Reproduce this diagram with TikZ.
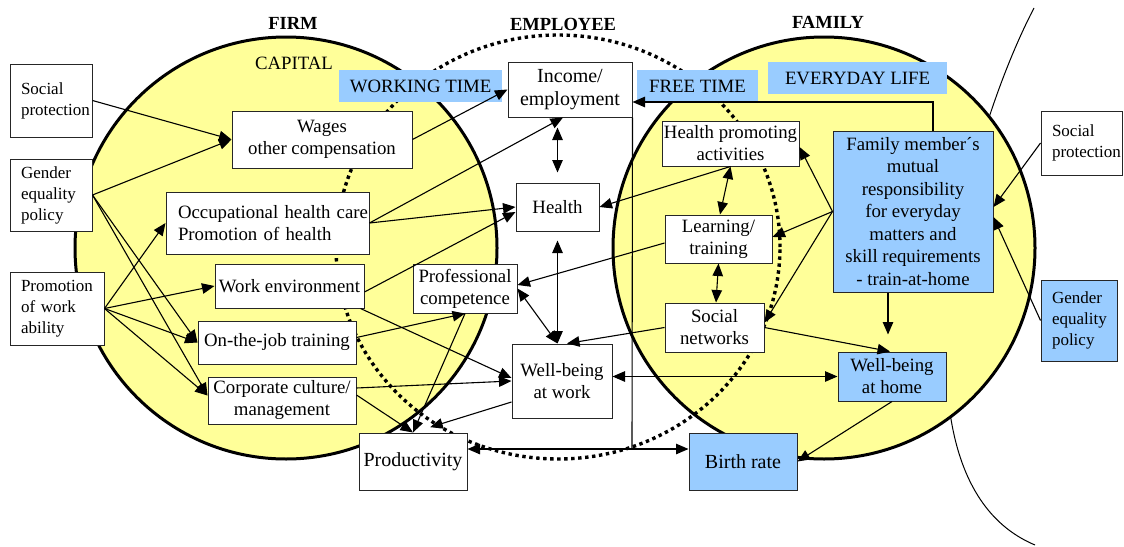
\documentclass[tikz,border=0pt]{standalone}
\usepackage{fontspec}
\setmainfont{Liberation Serif}
\usetikzlibrary{arrows.meta,calc}
\hfuzz=100pt
\definecolor{circfill}{RGB}{255,255,153}
\definecolor{paleblue}{RGB}{153,204,255}
\newcommand{\fsmain}{\fontsize{18.8pt}{22pt}\selectfont}
\newcommand{\fsbig}{\fontsize{20pt}{23pt}\selectfont}
\newcommand{\fsside}{\fontsize{17pt}{21pt}\selectfont}
\newcommand{\fshead}{\fontsize{18.5pt}{22pt}\selectfont\bfseries}

\tikzset{
  box/.style={draw=black!85, line width=1pt, fill=white, inner sep=0pt,
    align=center, font=\fsmain},
  bluebox/.style={box, fill=paleblue},
  sidebox/.style={draw=black!85, line width=1pt, fill=white, inner ysep=0pt,
    inner xsep=11pt, align=left, font=\fsside},
  tag/.style={fill=paleblue, inner sep=0pt, font=\fsmain},
  heading/.style={font=\fshead, inner sep=0pt},
  link/.style={line width=1.1pt, -{Triangle[length=12.5pt,width=10.5pt]}},
  both/.style={line width=1.1pt,
    {Triangle[length=12.5pt,width=10.5pt]}-{Triangle[length=12.5pt,width=10.5pt]}},
  sphere/.style={fill=circfill, draw=black, line width=3pt},
  employeering/.style={line width=3.4pt, dash pattern=on 3.4pt off 3.6pt},
}

\begin{document}
\begin{tikzpicture}[x=1pt, y=-1pt]
\useasboundingbox (0,0) rectangle (1124,546);

% outer arc behind the family sphere
\draw[line width=1pt] (1034,8) .. controls (960,150) and (880,480) .. (1035,545);

% firm and family spheres
\draw[sphere] (286,248) circle[radius=211pt];
\draw[sphere] (824,248) circle[radius=211pt];

% employee ring
\draw[employeering] (558,247) ellipse[x radius=222pt, y radius=212pt];

% headings
\node[heading] (hfirm) at (293,23) {FIRM};
\node[heading] (hemp) at (563,24) {EMPLOYEE};
\node[heading] (hfam) at (828,22.5) {FAMILY};
\node[font=\fsmain, inner sep=0pt] (capital) at (294,63) {CAPITAL};

% blue tags
\node[tag, minimum width=163pt, minimum height=32pt] (worktime) at (420.5,86) {WORKING TIME};
\node[tag, minimum width=121pt, minimum height=33pt] (freetime) at (697.5,86.5) {FREE TIME};
\node[tag, minimum width=179pt, minimum height=32pt] (everyday) at (857.5,78) {EVERYDAY LIFE};

% outside factors, left
\node[sidebox, text width=60pt, minimum height=73pt] (socL) at (51,100.5) {Social\\protection};
\node[sidebox, text width=60pt, minimum height=72pt] (genL) at (51,195) {Gender\\equality\\policy};
\node[sidebox, text width=72pt, minimum height=73pt] (promo) at (57,308.5) {Promotion\\of work\\ability};

% firm
\node[box, minimum width=180pt, minimum height=57pt] (wages) at (322,139.5) {Wages\\other compensation};
\node[box, align=left, inner xsep=12pt, text width=179pt, minimum height=62pt] (occ) at (267.5,223)
  {\mbox{Occupational health care}\\\mbox{Promotion of health}};
\node[box, minimum width=149pt, minimum height=44pt] (workenv) at (289.5,286) {Work environment};
\node[box, minimum width=158pt, minimum height=43pt] (onjob) at (277,342.5) {On-the-job training};
\node[box, minimum width=148pt, minimum height=47pt] (corp) at (282,400.5) {Corporate culture/\\management};
\node[box, font=\fsbig, minimum width=108pt, minimum height=57pt] (prod) at (413,461.5) {Productivity};

% employee
\node[box, font=\fsbig, minimum width=124pt, minimum height=55pt] (income) at (570,89.5) {Income/\\employment};
\node[box, minimum width=83pt, minimum height=48pt] (health) at (557.5,207) {Health};
\node[box, minimum width=104pt, minimum height=49pt] (profcomp) at (465,288.5) {Professional\\competence};
\node[box, minimum width=100pt, minimum height=74pt] (wbwork) at (562,381) {Well-being\\at work};

% family
\node[box, minimum width=137pt, minimum height=45pt] (hpa) at (730.5,143.5) {Health promoting\\activities};
\node[box, minimum width=107pt, minimum height=48pt] (learning) at (718.5,239) {Learning/\\training};
\node[box, minimum width=99pt, minimum height=49pt] (socnet) at (714.5,327.5) {Social\\networks};
\node[bluebox, font=\fontsize{18.8pt}{22.5pt}\selectfont, minimum width=160pt, minimum height=161pt] (family) at (913,211.5)
  {Family member´s\\mutual\\responsibility\\for everyday\\matters and\\skill requirements\\- train-at-home};
\node[bluebox, minimum width=108pt, minimum height=49pt] (wbhome) at (892,376.5) {Well-being\\at home};
\node[bluebox, font=\fsbig, minimum width=108pt, minimum height=57pt] (birth) at (743,461.5) {Birth rate};

% outside factors, right
\node[sidebox, text width=59pt, minimum height=64pt] (socR) at (1081.5,143) {Social\\protection};
\node[sidebox, fill=paleblue, text width=54pt, minimum height=81pt] (genR) at (1079,320.5) {Gender\\equality\\policy};

% left inputs
\draw[link] (socL.east) -- (wages.west);
\draw[link] (genL.east) -- (wages.west);
\draw[link] (genL.east) -- (onjob.west);
\draw[link] (genL.east) -- ([yshift=5pt]corp.west);
\draw[link] (promo.east) -- (occ.west);
\draw[link] (promo.east) -- (workenv.west);
\draw[link] (promo.east) -- (onjob.west);
\draw[link] (promo.east) -- ([yshift=5pt]corp.west);

% firm to employee
\draw[link] (wages.east) -- (income.west);
\draw[link] (occ.east) -- ([xshift=-7pt]income.south);
\draw[link] (occ.east) -- (health.west);
\draw[link] ([yshift=-6pt]workenv.east) -- ([yshift=-5pt]health.west);
\draw[link] ([xshift=-4pt]workenv.south east) -- ([yshift=3pt]wbwork.west);
\draw[link] ([yshift=12.5pt]corp.east) -- (wbwork.west);
\draw[link] ([yshift=5pt]onjob.east) -- (profcomp.south);
\draw[link] (profcomp.south) -- (prod.north);
\draw[link] ([yshift=5.5pt]corp.east) -- (prod.north);
\draw[link, shorten >=18pt] ([yshift=-21pt]wbwork.west) -- (prod.north);

% within the employee
\draw[both, shorten <=10pt, shorten >=10pt] (health.north |- income.south) -- (health.north);
\draw[both, shorten <=9pt] (health.south) -- (health.south |- wbwork.north);
\draw[both] (profcomp.east) -- (health.south |- wbwork.north);

% family to employee
\draw[link] (socnet.west) -- ([xshift=5pt]wbwork.north);
\draw[link] ([yshift=-4pt]learning.west) -- ([yshift=3.5pt]profcomp.east);
\draw[link] (hpa.south) -- (health.east);
\draw[both] (wbwork.east |- wbhome.west) -- (wbhome.west);

% within the family
\draw[both] (hpa.south) -- ([xshift=1.5pt]learning.north);
\draw[both] (learning.south) -- ([xshift=1.5pt]socnet.north);
\draw[link] (family.west) -- ([yshift=-3.5pt]hpa.east);
\draw[link] (family.west) -- ([yshift=2pt]learning.east);
\draw[link] (family.west) -- ([yshift=5pt]socnet.east);
\draw[link, shorten >=17pt] ([xshift=-25pt]family.south) -- ([xshift=-4pt]wbhome.north);
\draw[link] (socnet.east) -- ([xshift=-2pt]wbhome.north);
\draw[link] (wbhome.south) -- (birth.east);

% right inputs
\draw[link] (socR.west) -- ([yshift=4.5pt]family.east);
\draw[link] (genR.west) -- ([yshift=-5.5pt]family.east);

% long connectors
\draw[link] ([xshift=20pt]family.north) |- ([yshift=-12.5pt]income.east);
\coordinate (jn) at (632,449);
\draw[line width=1.1pt] (income.south east) -- (jn);
\draw[link] (jn) -- (prod.east |- jn);
\draw[link] (jn) -- (birth.west |- jn);
\end{tikzpicture}
\end{document}
